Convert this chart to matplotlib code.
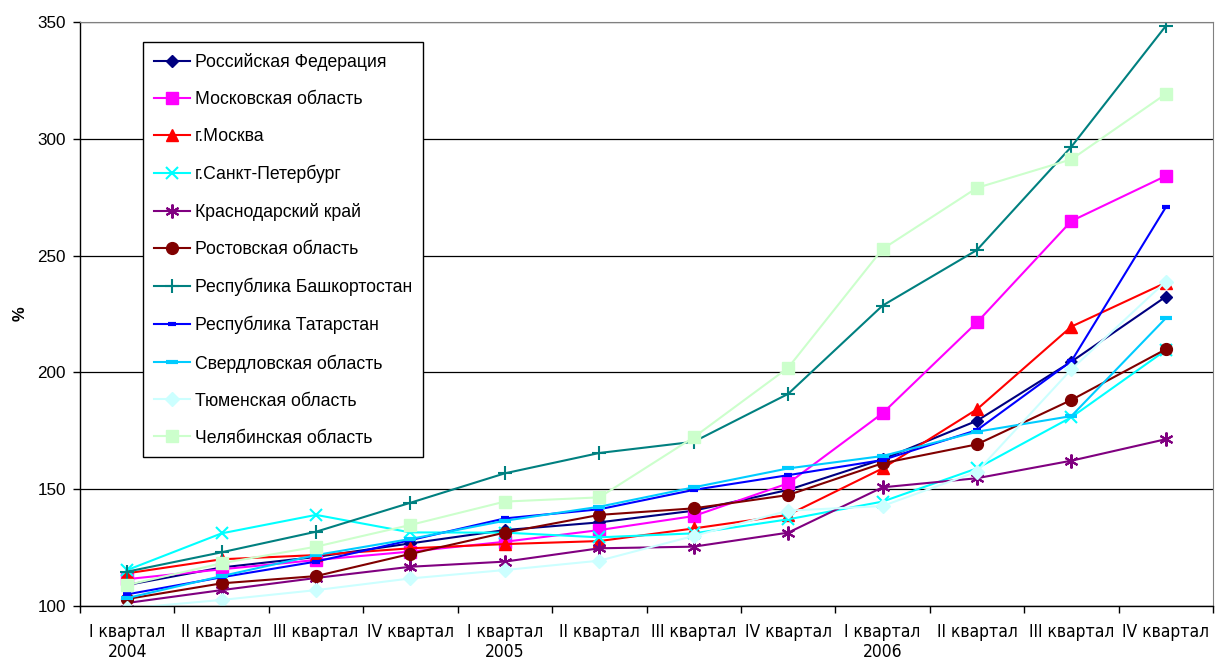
import numpy as np
import matplotlib
matplotlib.use("Agg")
import matplotlib.pyplot as plt
from matplotlib import font_manager

# квартальные данные, % (читаются с графика)
kvartaly = ["I квартал\n2004", "II квартал", "III квартал", "IV квартал",
            "I квартал\n2005", "II квартал", "III квартал", "IV квартал",
            "I квартал\n2006", "II квартал", "III квартал", "IV квартал"]

rf          = [109, 116.5, 121, 126.8, 132.5, 135.8, 140.8, 149.7, 162.8, 179.3, 204.6, 232.4]
mosk_obl    = [111.5, 115.7, 119.7, 123.3, 127.5, 132.5, 138.5, 152.5, 182.5, 221.4, 264.8, 284.1]
moskva      = [114, 120, 121.8, 124.7, 126.5, 127.8, 133.2, 139, 158.9, 184.2, 219.6, 238.4]
spb         = [115.4, 131.1, 139, 131.5, 131.4, 129.4, 131.1, 137.1, 144.7, 158.9, 180.8, 209.5]
krasnodar   = [101.3, 106.8, 112, 116.8, 119, 124.7, 125.4, 131.4, 150.8, 154.7, 162.2, 171.4]
rostov      = [103, 109.7, 112.8, 122.3, 131.4, 139, 141.8, 147.5, 161.1, 169.2, 188.2, 209.9]
bashkiria   = [114.7, 123, 131.8, 144.2, 156.8, 165.5, 170.3, 190.8, 228.6, 252.4, 296.6, 348.3]
tatarstan   = [105, 112.3, 119, 128.2, 137.5, 141.4, 149.7, 156, 162.5, 175.3, 204.8, 270.7]
sverdlovsk  = [103.4, 112.8, 121.8, 128.7, 136.5, 142.5, 150.8, 158.9, 164.2, 174.6, 181.3, 223.2]
tyumen      = [99, 102.6, 106.8, 111.8, 115.4, 119.4, 130, 140.8, 142.8, 157.5, 201.3, 238.9]
chelyabinsk = [109, 118.3, 125.4, 134.7, 144.7, 146.5, 172.2, 202, 252.8, 279, 291.2, 319.2]

serii = [
    ("Российская Федерация", rf, "#000080", "D", 6.5, 1),
    ("Московская область", mosk_obl, "#FF00FF", "s", 8.5, 1),
    ("г.Москва", moskva, "#FF0000", "^", 8.5, 1),
    ("г.Санкт-Петербург", spb, "#00FFFF", "x", 8.5, 1.5),
    ("Краснодарский край", krasnodar, "#800080", (6, 2, 0), 10, 1.5),
    ("Ростовская область", rostov, "#800000", "o", 8.5, 1),
    ("Республика Башкортостан", bashkiria, "#008080", "+", 9.5, 1.5),
    ("Республика Татарстан", tatarstan, "#0000FF", "_", 6, 3),
    ("Свердловская область", sverdlovsk, "#00CCFF", "_", 8, 3),
    ("Тюменская область", tyumen, "#CCFFFF", "D", 7.5, 1),
    ("Челябинская область", chelyabinsk, "#CCFFCC", "s", 8.5, 1),
]

plt.rcParams['font.family'] = ['Liberation Sans', 'DejaVu Sans']

# узкий шрифт для подписей кварталов, если найдётся
narrow_fp = None
for f in font_manager.fontManager.ttflist:
    if "Narrow" in f.name or "Condensed" in f.name or f.stretch == "condensed":
        if f.style == "normal" and f.weight in (400, "normal", "regular"):
            narrow_fp = font_manager.FontProperties(fname=f.fname, size=12.5)
            break
if narrow_fp is None:
    narrow_fp = font_manager.FontProperties(family="Liberation Sans", size=11.5)

fig = plt.figure(figsize=(12.15, 6.62), dpi=100)
ax = fig.add_axes([80/1215, 56/662, 1133/1215, 584/662])

x = np.arange(len(kvartaly))
for name, vals, col, mk, ms, mew in serii:
    ax.plot(x, vals, color=col, lw=1.5, marker=mk, markersize=ms,
            markeredgewidth=mew, markerfacecolor=col, markeredgecolor=col,
            label=name, clip_on=True)

ax.set_xlim(-0.5, len(kvartaly) - 0.5)
ax.set_ylim(100, 350)
ax.set_yticks([100, 150, 200, 250, 300, 350])
ax.yaxis.grid(True, color="black", lw=0.9)
ax.set_axisbelow(True)

ax.set_xticks(x)
ax.set_xticklabels(kvartaly, fontproperties=narrow_fp, linespacing=1.15)
ax.set_xticks(np.arange(-0.5, len(kvartaly)), minor=True)
ax.tick_params(axis="x", which="major", length=0, pad=12)
ax.tick_params(axis="x", which="minor", length=5, direction="out", width=1)
ax.tick_params(axis="y", length=5, direction="out", labelsize=12.3, pad=5, width=1)

for s in ["top", "right"]:
    ax.spines[s].set_color("#808080")
for s in ["left", "bottom"]:
    ax.spines[s].set_color("black")
    ax.spines[s].set_linewidth(1)

ax.set_ylabel("%", fontsize=12, fontweight="bold", labelpad=7)

leg = ax.legend(loc="upper left", bbox_to_anchor=(143/1215, 1 - 42/662),
                bbox_transform=fig.transFigure, fontsize=12.7, frameon=True,
                fancybox=False, edgecolor="black", framealpha=1,
                handlelength=2.05, handletextpad=0.25, labelspacing=1.13,
                borderpad=0.62, borderaxespad=0)
leg.get_frame().set_linewidth(1)

fig.savefig("out.png", dpi=100)
